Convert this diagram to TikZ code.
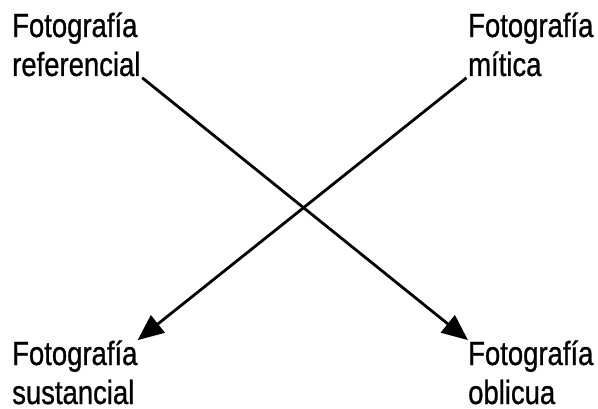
\documentclass[tikz,border=0pt]{standalone}
\usepackage{fontspec}
\setmainfont[FakeStretch=0.82,FakeBold=0.8]{Liberation Sans}
\usetikzlibrary{arrows.meta}
\begin{document}
\begin{tikzpicture}[x=1pt,y=-1pt,
  label/.style={inner sep=0pt,align=left,anchor=base west,
    font=\fontsize{33.5}{39}\selectfont},
  conn/.style={line width=2.8pt,shorten <=2pt,-{Triangle[length=26pt,width=22pt]}}]
\useasboundingbox (0,0) rectangle (598,409);
% labels: anchored at the baseline of their second line
\node[label] (ref) at (12,76) {Fotografía\\referencial};
\node[label] (mit) at (468,76) {Fotografía\\mítica};
\node[label] (sus) at (12,404) {Fotografía\\sustancial};
\node[label] (obl) at (468,404) {Fotografía\\oblicua};
% crossing arrows
\draw[conn] (ref.south east) -- (obl.north west);
\draw[conn] (mit.south west) -- (sus.north east);
\end{tikzpicture}
\end{document}
